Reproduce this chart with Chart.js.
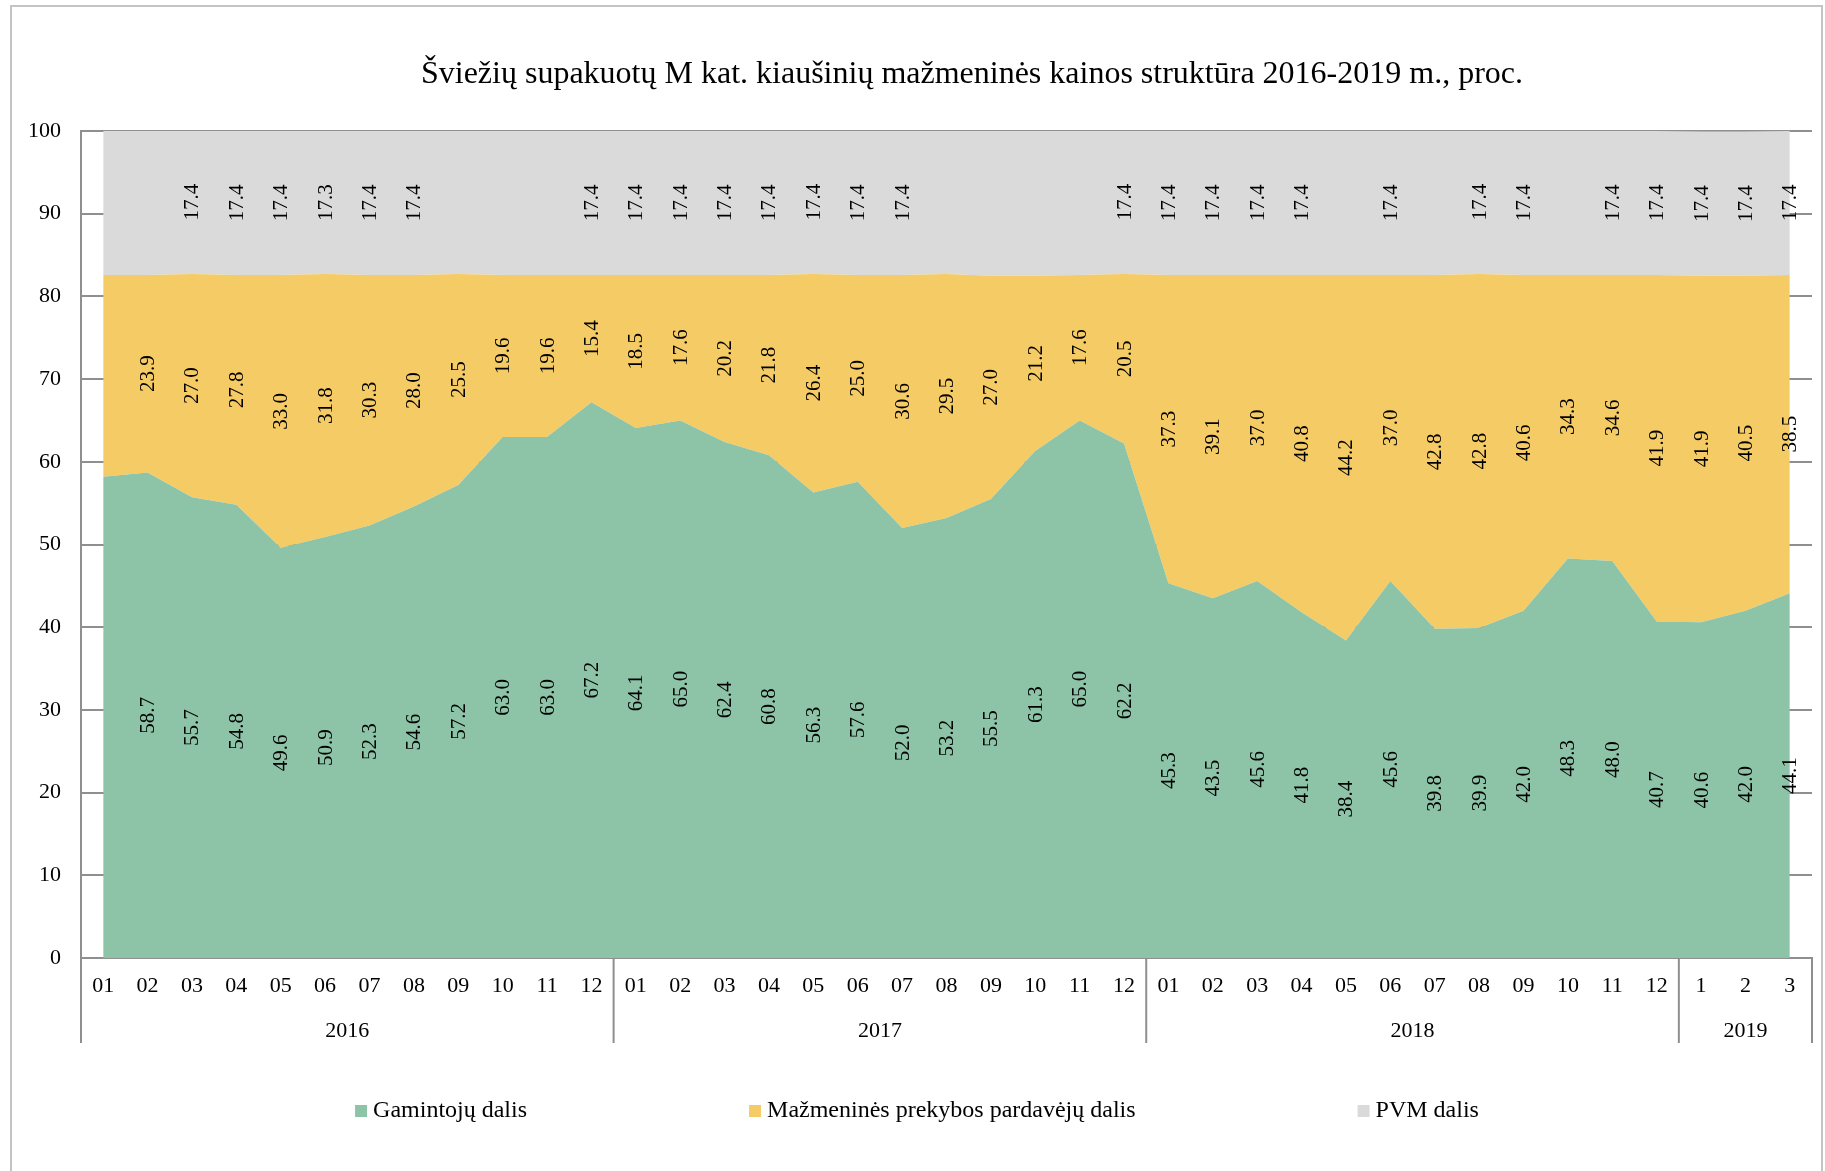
<!DOCTYPE html>
<html>
<head>
<meta charset="utf-8">
<script src="https://cdn.jsdelivr.net/npm/chart.js@4.4.0/dist/chart.umd.min.js"></script>
<style>
html,body{margin:0;padding:0;background:#fff;overflow:hidden;}
#frame{position:absolute;left:10px;top:5px;width:1813px;height:1260px;border:2px solid #c4c4c4;box-sizing:border-box;}
#wrap{position:absolute;left:0;top:0;width:1825px;height:1171px;}
</style>
</head>
<body>
<div id="frame"></div>
<div id="wrap"><canvas id="chart" width="1825" height="1171"></canvas></div>
<script>
// Data
const months=["01","02","03","04","05","06","07","08","09","10","11","12",
"01","02","03","04","05","06","07","08","09","10","11","12",
"01","02","03","04","05","06","07","08","09","10","11","12",
"1","2","3"];
const yearLabels=["2016","2017","2018","2019"];
const yearSizes=[12,12,12,3];

const gamintoju=[58.2,58.7,55.7,54.8,49.6,50.9,52.3,54.6,57.2,63.0,63.0,67.2,
64.1,65.0,62.4,60.8,56.3,57.6,52.0,53.2,55.5,61.3,65.0,62.2,
45.3,43.5,45.6,41.8,38.4,45.6,39.8,39.9,42.0,48.3,48.0,40.7,
40.6,42.0,44.1];
const prekybos=[24.4,23.9,27.0,27.8,33.0,31.8,30.3,28.0,25.5,19.6,19.6,15.4,
18.5,17.6,20.2,21.8,26.4,25.0,30.6,29.5,27.0,21.2,17.6,20.5,
37.3,39.1,37.0,40.8,44.2,37.0,42.8,42.8,40.6,34.3,34.6,41.9,
41.9,40.5,38.5];
const pvm=[17.4,17.4,17.4,17.4,17.4,17.3,17.4,17.4,17.3,17.4,17.4,17.4,
17.4,17.4,17.4,17.4,17.4,17.4,17.4,17.3,17.5,17.5,17.4,17.4,
17.4,17.4,17.4,17.4,17.4,17.4,17.4,17.4,17.4,17.4,17.4,17.4,
17.45,17.45,17.4];
const yTicks=[0,10,20,30,40,50,60,70,80,90,100];

// which value labels are not shown in the original
const hiddenLabels=[[0],[0],[0,1,8,9,10,19,20,21,22,28,30,33]];

const title="Šviežių supakuotų M kat. kiaušinių mažmeninės kainos struktūra 2016-2019 m., proc.";
const serif='"Liberation Serif","Times New Roman",serif';
const gridGray="#8f8f8f";

// rotated value labels in the middle of each band
const valueLabels={
id:"valueLabels",
afterDatasetsDraw(chart){
const ctx=chart.ctx;
const y0=chart.scales.y.getPixelForValue(0);
ctx.save();
ctx.font="21px "+serif;
ctx.fillStyle="#000";
ctx.textAlign="center";
ctx.textBaseline="middle";
chart.data.datasets.forEach((ds,di)=>{
const pts=chart.getDatasetMeta(di).data;
const below=di>0?chart.getDatasetMeta(di-1).data:null;
pts.forEach((pt,i)=>{
if(hiddenLabels[di].includes(i)) return;
const yb=below?below[i].y:y0;
ctx.save();
ctx.translate(pt.x,(pt.y+yb)/2);
ctx.rotate(-Math.PI/2);
ctx.fillText(ds.data[i].toFixed(1),0,1);
ctx.restore();
});
});
ctx.restore();
}
};

// year row, title, legend
const extras={
id:"extras",
afterDraw(chart){
const ctx=chart.ctx;
const a=chart.chartArea;
const xs=chart.scales.x;
ctx.save();
// year separators
ctx.strokeStyle=gridGray;
ctx.lineWidth=2;
let idx=0;
let bounds=[a.left];
yearSizes.forEach((n,k)=>{
idx+=n;
if(k<yearSizes.length-1) bounds.push((xs.getPixelForValue(idx-1)+xs.getPixelForValue(idx))/2);
});
bounds.push(a.right);
bounds.forEach(x=>{
ctx.beginPath();ctx.moveTo(x,a.bottom);ctx.lineTo(x,a.bottom+85);ctx.stroke();
});
ctx.fillStyle="#000";
ctx.font="22px "+serif;
ctx.textAlign="center";
ctx.textBaseline="middle";
yearLabels.forEach((t,k)=>{
ctx.fillText(t,(bounds[k]+bounds[k+1])/2,a.bottom+73);
});
// title
ctx.font="32px "+serif;
ctx.fillText(title,972,75);
// legend
ctx.font="24px "+serif;
ctx.textAlign="left";
const items=chart.data.datasets.map(d=>({text:d.label,color:d.backgroundColor,w:18+ctx.measureText(d.label).width}));
const gap=222;
const total=items.reduce((s,it)=>s+it.w,0)+gap*(items.length-1);
let x=917-total/2;
const ly=1111;
items.forEach(it=>{
ctx.fillStyle=it.color;
ctx.fillRect(x,ly-6,12,12);
ctx.fillStyle="#000";
ctx.fillText(it.text,x+18,ly);
x+=it.w+gap;
});
ctx.restore();
}
};

new Chart(document.getElementById("chart"),{
type:"line",
data:{
labels:months,
datasets:[
{label:"Gamintojų dalis",data:gamintoju,backgroundColor:"#8DC3A7",borderColor:"transparent",borderWidth:0,pointRadius:0,fill:"origin"},
{label:"Mažmeninės prekybos pardavėjų dalis",data:prekybos,backgroundColor:"#F4CB65",borderColor:"transparent",borderWidth:0,pointRadius:0,fill:"-1"},
{label:"PVM dalis",data:pvm,backgroundColor:"#DADADA",borderColor:"transparent",borderWidth:0,pointRadius:0,fill:"-1"}
]
},
options:{
responsive:false,
animation:false,
devicePixelRatio:1,
layout:{padding:{left:0,right:13,top:131,bottom:128}},
plugins:{legend:{display:false},title:{display:false},tooltip:{enabled:false}},
elements:{line:{tension:0}},
scales:{
x:{
offset:true,
grid:{display:false,drawTicks:false},
border:{display:true,color:gridGray,width:2},
ticks:{autoSkip:false,maxRotation:0,padding:15,color:"#000",font:{family:serif,size:22}},
afterFit(s){s.height=85;}
},
y:{
stacked:true,
min:0,max:100,
afterBuildTicks(s){s.ticks=yTicks.map(v=>({value:v}));},
grid:{color:gridGray,lineWidth:2,drawTicks:false},
border:{display:true,color:gridGray,width:2},
ticks:{padding:20,color:"#000",font:{family:serif,size:22}},
afterFit(s){s.width=81;}
}
}
},
plugins:[valueLabels,extras]
});
</script>
</body>
</html>
